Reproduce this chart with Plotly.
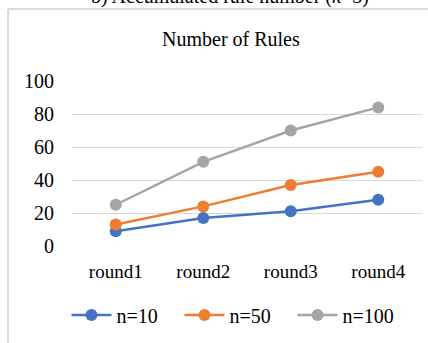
import plotly.graph_objects as go

categories = ["round1", "round2", "round3", "round4"]
n10 = [9, 17, 21, 28]
n50 = [13, 24, 37, 45]
n100 = [25, 51, 70, 84]
series_names = ["n=10", "n=50", "n=100"]
colors = ["#4472C4", "#ED7D31", "#A5A5A5"]

fig = go.Figure()
for name, vals, col in zip(series_names, [n10, n50, n100], colors):
    fig.add_trace(go.Scatter(
        x=categories, y=vals, name=name, mode="lines+markers",
        line=dict(color=col, width=2.5),
        marker=dict(color=col, size=12),
    ))

L, R, T, B = 72, 6, 81, 97
W, H = 428, 343
pw = W - L - R
ph = H - T - B

def px_x(x):
    return (x - L) / pw

def px_y(y):
    return (H - B - y) / ph

fig.update_layout(
    width=W, height=H,
    margin=dict(l=L, r=R, t=T, b=B, pad=0, autoexpand=False),
    paper_bgcolor="white", plot_bgcolor="white",
    font=dict(family="Liberation Serif, Times New Roman, serif", size=20, color="#000000"),
    showlegend=True,
    legend=dict(orientation="h", xref="container", x=236 / W, xanchor="center",
                y=px_y(315), yanchor="middle",
                font=dict(size=20), itemwidth=40, entrywidth=58, entrywidthmode="pixels",
                tracegroupgap=0),
    xaxis=dict(range=[-0.5, 3.5], showgrid=False, showline=False, zeroline=False, ticks="",
               ticklabelstandoff=12, fixedrange=True, tickfont=dict(size=19)),
    yaxis=dict(range=[0, 100], dtick=20, showgrid=True, gridcolor="#D9D9D9", gridwidth=1.3,
               zeroline=False, showline=False, ticks="", ticklabelstandoff=17, fixedrange=True),
    annotations=[
        dict(text="Number of Rules", xref="paper", yref="paper", x=px_x(231), y=px_y(39),
             xanchor="center", yanchor="middle", showarrow=False, font=dict(size=20)),
        dict(text="b) Accumulated rule number (<i>k</i>=3)", xref="paper", yref="paper",
             x=px_x(230), y=px_y(-4), xanchor="center", yanchor="middle", showarrow=False,
             font=dict(size=20)),
    ],
    shapes=[
        dict(type="line", xref="paper", yref="paper", x0=px_x(8), x1=px_x(8),
             y0=px_y(9), y1=px_y(345), line=dict(color="#D0D0D0", width=1.5)),
        dict(type="line", xref="paper", yref="paper", x0=px_x(8), x1=px_x(430),
             y0=px_y(9), y1=px_y(9), line=dict(color="#D0D0D0", width=1.5)),
    ],
)

fig.write_html("out.html", config={"displayModeBar": False},
               post_script="document.body.style.margin='0';")
